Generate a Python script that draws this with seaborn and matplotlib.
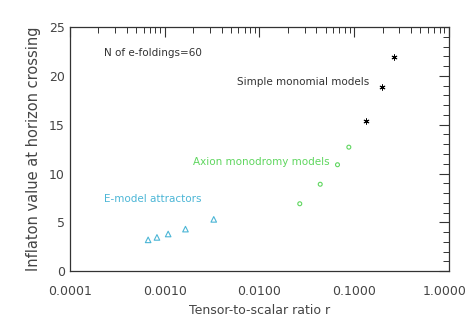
import numpy as np
import pandas as pd
import matplotlib
matplotlib.use("Agg")
import matplotlib.pyplot as plt
import matplotlib.transforms as mtransforms
import seaborn as sns
from matplotlib.ticker import FixedLocator, FormatStrFormatter, MultipleLocator, LogLocator

# ================================================================
# DATA
# ================================================================
emodel_r = [6.7e-4, 8.3e-4, 1.09e-3, 1.66e-3, 3.3e-3]
emodel_phi = [3.2, 3.45, 3.8, 4.3, 5.3]

axion_r = [0.0267, 0.0439, 0.0668, 0.088]
axion_phi = [6.9, 8.9, 10.9, 12.7]

mono_r = [0.132, 0.198, 0.264]
mono_phi = [15.4, 18.9, 21.9]

x_ticks = [0.0001, 0.001, 0.01, 0.1, 1.0]
y_ticks = [0, 5, 10, 15, 20, 25]

CYAN = "#4cb6d6"
GREEN = "#5fd65f"

df = pd.concat([
    pd.DataFrame({"r": emodel_r, "phi": emodel_phi, "model": "E-model attractors"}),
    pd.DataFrame({"r": axion_r, "phi": axion_phi, "model": "Axion monodromy models"}),
    pd.DataFrame({"r": mono_r, "phi": mono_phi, "model": "Simple monomial models"}),
])

# ================================================================
# PLOT
# ================================================================
sns.set_style("white")
plt.rcParams["font.family"] = ["DejaVu Sans"]

fig = plt.figure(figsize=(4.69, 3.27), dpi=100)
ax = fig.add_axes([0.149, 0.171, 0.808, 0.746])

sub = df[df.model == "E-model attractors"]
sns.scatterplot(data=sub, x="r", y="phi", marker="^", s=16, facecolor="none",
                edgecolor=CYAN, linewidth=0.8, ax=ax)
sub = df[df.model == "Axion monodromy models"]
sns.scatterplot(data=sub, x="r", y="phi", marker="o", s=8, facecolor="none",
                edgecolor=GREEN, linewidth=0.8, ax=ax)
sub = df[df.model == "Simple monomial models"]
sns.scatterplot(data=sub, x="r", y="phi", marker=(6, 2, 0), s=14, color="black",
                linewidth=0.7, ax=ax)

ax.set_xscale("log")
ax.set_xlim(1e-4, 1.0)
ax.set_ylim(0, 25)
ax.xaxis.set_major_locator(FixedLocator(x_ticks))
ax.xaxis.set_major_formatter(FormatStrFormatter("%.4f"))
ax.xaxis.set_minor_locator(LogLocator(base=10, subs=np.arange(2, 10)))
ax.yaxis.set_major_locator(FixedLocator(y_ticks))
ax.yaxis.set_minor_locator(MultipleLocator(1))

ax.tick_params(which="both", direction="in", top=True, right=True,
               colors="#333333", labelcolor="#444444", labelsize=9)
ax.tick_params(which="major", length=7, width=0.8)
ax.tick_params(which="minor", length=4, width=0.7)
ax.tick_params(axis="x", pad=10)
for s in ax.spines.values():
    s.set_color("#333333")
    s.set_linewidth(0.9)

# nudge the last x label so it stays inside the canvas
fig.canvas.draw()
last = ax.get_xticklabels()[-1]
last.set_transform(last.get_transform()
                   + mtransforms.ScaledTranslation(-3 / 72, 0, fig.dpi_scale_trans))

ax.set_xlabel("Tensor-to-scalar ratio r", fontsize=9, color="#444444", labelpad=4)
ax.set_ylabel("Inflaton value at horizon crossing", fontsize=10.5, color="#444444",
              labelpad=6)

ax.text(2.29e-4, 22.3, "N of e-foldings=60", fontsize=7.5, color="#333333", va="center")
ax.text(0.0058, 19.4, "Simple monomial models", fontsize=7.5, color="#333333", va="center")
ax.text(0.00199, 11.2, "Axion monodromy models", fontsize=7.5, color=GREEN, va="center")
ax.text(2.29e-4, 7.35, "E-model attractors", fontsize=7.5, color=CYAN, va="center")

fig.savefig("out.png", dpi=100)
